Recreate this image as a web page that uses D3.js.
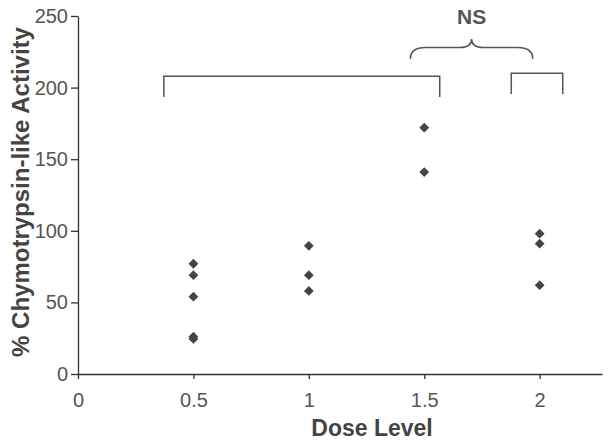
<!DOCTYPE html>
<html>
<head>
<meta charset="utf-8">
<script src="https://cdn.jsdelivr.net/npm/d3@7"></script>
<style>
  body { margin: 0; background: #fff; }
  svg { display: block; font-family: "Liberation Sans", Arial, sans-serif; }
</style>
</head>
<body>
<svg id="chart" width="612" height="444"></svg>
<script>
// data
var doses = [0.5, 0.5, 0.5, 0.5, 0.5, 1, 1, 1, 1.5, 1.5, 2, 2, 2];
var activity = [77, 69, 54, 26, 24.5, 89.5, 69, 58, 172, 141, 98, 91, 62];

var xTicks = [0, 0.5, 1, 1.5, 2];
var yTicks = [0, 50, 100, 150, 200, 250];

// significance brackets, in data units: [x1, x2, top, legBottom]
var brackets = [[0.372, 1.567, 208, 193.5], [1.877, 2.10, 210, 195.5]];
// "NS" brace: [x1, x2, ends, bar, tip]
var brace = [1.44, 1.97, 220, 228, 234];
var braceLabel = "NS";

var svg = d3.select("#chart"),
    ink = "#444";

var x = d3.scaleLinear().domain([0, 2.27]).range([78, 602]);
var y = d3.scaleLinear().domain([0, 250]).range([374, 16]);

// axes
svg.append("g")
    .attr("transform", "translate(0," + y(0) + ")")
    .call(d3.axisBottom(x).tickValues(xTicks).tickFormat(d3.format("")).tickSize(5).tickSizeOuter(0).tickPadding(14));

svg.append("g")
    .attr("transform", "translate(" + x(0) + ",0)")
    .call(d3.axisLeft(y).tickValues(yTicks).tickSize(7).tickSizeOuter(0).tickPadding(3));

svg.selectAll(".domain, .tick line").attr("stroke", "#333").attr("stroke-width", 1.3);
svg.selectAll(".tick text")
    .attr("fill", "#555")
    .style("font-size", "20px")
    .style("font-family", "'Liberation Sans', Arial, sans-serif");

// axis titles
svg.append("text")
    .attr("x", 372)
    .attr("y", 436)
    .attr("text-anchor", "middle")
    .attr("fill", ink)
    .style("font-size", "23px")
    .style("font-weight", "bold")
    .text("Dose Level");

svg.append("text")
    .attr("transform", "translate(29,192) rotate(-90)")
    .attr("text-anchor", "middle")
    .attr("fill", ink)
    .style("font-size", "24px")
    .style("font-weight", "bold")
    .text("% Chymotrypsin-like Activity");

// points
svg.append("g")
    .selectAll("path")
    .data(doses)
    .enter().append("path")
    .attr("d", d3.symbol().type(d3.symbolSquare).size(48))
    .attr("transform", function(d, i) { return "translate(" + x(d) + "," + y(activity[i]) + ") rotate(45)"; })
    .attr("fill", ink);

// brackets
svg.append("g")
    .selectAll("path")
    .data(brackets)
    .enter().append("path")
    .attr("d", function(b) {
        return "M" + x(b[0]) + "," + y(b[3]) + "V" + y(b[2]) + "H" + x(b[1]) + "V" + y(b[3]);
    })
    .attr("fill", "none")
    .attr("stroke", "#555")
    .attr("stroke-width", 1.5);

// brace
var bx1 = x(brace[0]), bx2 = x(brace[1]), bm = (bx1 + bx2) / 2,
    yEnd = y(brace[2]), yBar = y(brace[3]), yTip = y(brace[4]);
svg.append("path")
    .attr("d", "M" + bx1 + "," + yEnd +
        "Q" + bx1 + "," + yBar + " " + (bx1 + 15) + "," + yBar +
        "H" + (bm - 12) +
        "Q" + bm + "," + yBar + " " + bm + "," + yTip +
        "Q" + bm + "," + yBar + " " + (bm + 12) + "," + yBar +
        "H" + (bx2 - 15) +
        "Q" + bx2 + "," + yBar + " " + bx2 + "," + yEnd)
    .attr("fill", "none")
    .attr("stroke", "#555")
    .attr("stroke-width", 1.5);

svg.append("text")
    .attr("x", bm)
    .attr("y", 24)
    .attr("text-anchor", "middle")
    .attr("fill", "#555")
    .style("font-size", "21px")
    .style("font-weight", "bold")
    .text(braceLabel);
</script>
</body>
</html>
